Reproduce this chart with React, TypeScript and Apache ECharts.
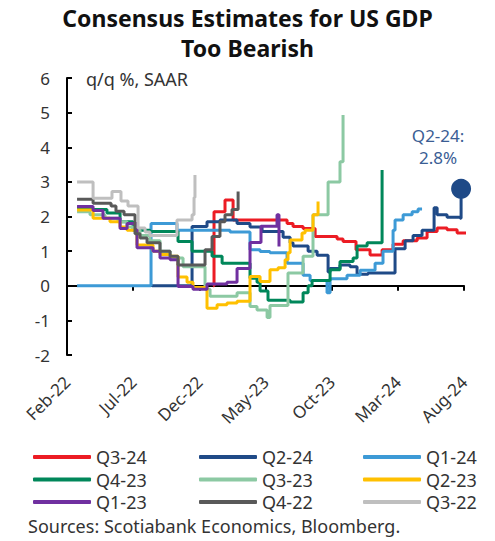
import { useEffect, useRef } from "react";
import * as echarts from "echarts";

// x values: months since Feb-22 (0 = Feb-22, 30 = Aug-24)
const TICK_LABELS = ["Feb-22", "Jul-22", "Dec-22", "May-23", "Oct-23", "Mar-24", "Aug-24"];
const SERIES_NAMES = ["Q3-24", "Q2-24", "Q1-24", "Q4-23", "Q3-23", "Q2-23", "Q1-23", "Q4-22", "Q3-22"];
const COLORS = ["#ec1c24", "#1f4a87", "#3d9ad6", "#00875a", "#8cc9a3", "#ffc000", "#7030a0", "#595959", "#bfbfbf"];

const q324 = [[11.04, 0], [11.11, 2.14], [11.94, 2.48], [12.55, 1.9], [15.12, 1.9], [16.63, 1.8], [17.08, 1.71], [17.84, 1.65], [18.75, 1.42], [20.41, 1.35], [20.86, 1.28], [21.84, 1.04], [22.9, 0.89], [23.81, 1.04], [24.64, 1.2], [25.4, 1.3], [26.46, 1.38], [27.21, 1.57], [27.97, 1.67], [28.72, 1.62], [29.48, 1.52], [30.16, 1.52]];
const q224 = [[6.42, 0], [9.45, 1.71], [10.58, 1.85], [11.56, 1.9], [12.85, 1.8], [13.83, 1.7], [14.74, 1.57], [16.33, 1.4], [16.86, 1.24], [17.08, 1.15], [18.22, 1.0], [18.9, 0.88], [19.73, 0.4], [19.88, 0.5], [20.63, 0.6], [21.39, 0.55], [21.92, 0.33], [22.75, 0.37], [24.79, 1.07], [25.55, 1.3], [26.15, 1.45], [26.83, 1.6], [27.74, 2.25], [27.97, 2.05], [28.72, 1.98], [29.71, 1.95], [29.78, 2.8]];
const q124 = [[0.76, 0], [6.35, 1.8], [8.31, 1.6], [12.32, 1.55], [13.83, 1.04], [14.59, 0.99], [15.34, 0.95], [16.63, 0.65], [17.84, 0.3], [18.37, 0.15], [19.65, -0.2], [19.88, 0.2], [21.16, 0.3], [22.15, 0.45], [23.28, 0.65], [23.88, 1.0], [24.64, 1.6], [24.79, 1.9], [25.4, 2.05], [26.08, 2.14], [26.53, 2.22], [26.83, 2.22]];
const q423 = [[0.76, 2.25], [1.74, 2.2], [3.02, 2.1], [4.01, 1.85], [4.99, 1.6], [6.27, 1.57], [8.39, 1.28], [9.45, 1.0], [10.96, 0.85], [11.72, 0.65], [13.83, 0.22], [14.36, 0.1], [14.59, -0.15], [15.19, -0.42], [16.86, -0.47], [17.84, -0.2], [18.22, 0.0], [18.52, 0.15], [19.88, 0.46], [20.63, 0.7], [21.62, 0.8], [21.92, 1.15], [22.68, 1.24], [23.81, 3.34]];
const q323 = [[0.76, 2.14], [1.74, 2.05], [2.87, 1.95], [3.85, 1.85], [4.54, 1.7], [4.99, 1.6], [5.52, 1.45], [6.27, 1.3], [7.03, 1.0], [7.79, 0.8], [8.77, 0.55], [10.43, -0.1], [10.81, -0.3], [12.85, -0.2], [13.83, -0.6], [14.36, -0.7], [15.12, -0.92], [15.34, -0.57], [16.7, 0.37], [17.84, 0.85], [18.59, 2.05], [19.73, 3.0], [20.63, 3.58], [20.86, 4.93]];
const q223 = [[0.76, 2.19], [1.97, 1.95], [3.25, 1.85], [4.01, 1.7], [4.54, 1.6], [5.29, 1.18], [6.5, 1.0], [7.03, 0.9], [7.79, 0.85], [8.39, 0.25], [9.07, 0.1], [9.52, -0.05], [10.58, -0.65], [11.34, -0.55], [12.09, -0.5], [12.85, -0.45], [13.83, 0.27], [14.59, 0.12], [15.34, 0.46], [15.95, 0.52], [16.48, 0.75], [16.7, 0.95], [16.86, 1.32], [17.76, 1.52], [17.99, 1.6], [18.59, 2.05], [18.97, 2.43]];
const q123 = [[0.76, 2.29], [1.97, 2.17], [2.72, 1.95], [4.01, 1.65], [4.54, 1.8], [5.29, 1.1], [6.5, 1.0], [7.03, 0.8], [7.79, 0.75], [8.39, -0.02], [9.52, -0.1], [10.58, 0.05], [12.09, 0.1], [12.85, 0.5], [13.83, 1.25], [14.66, 1.72], [15.87, 2.05], [16.02, 1.13]];
const q422 = [[0.76, 2.5], [1.97, 2.38], [3.33, 2.3], [3.7, 2.15], [4.31, 2.05], [5.14, 1.5], [5.52, 1.38], [6.05, 1.24], [7.03, 1.0], [7.79, 0.85], [8.39, 0.6], [10.43, 1.04], [10.96, 1.42], [11.56, 1.85], [11.94, 2.05], [12.47, 2.2], [12.93, 2.72]];
const q322 = [[0.76, 3.0], [1.97, 2.53], [3.4, 2.72], [4.08, 2.45], [4.61, 2.3], [5.37, 1.67], [5.9, 1.55], [6.27, 1.45], [8.31, 1.9], [9.45, 2.05], [9.6, 2.55], [9.67, 3.2]];

const SERIES_DATA = [q324, q224, q124, q423, q323, q223, q123, q422, q322];
const LEGEND_COLUMNS = [
  ["Q3-24", "Q4-23", "Q1-23"],
  ["Q2-24", "Q3-23", "Q4-22"],
  ["Q1-24", "Q2-23", "Q3-22"],
];

const FONT = "Noto Sans";

export default function App() {
  const ref = useRef<HTMLDivElement>(null);
  useEffect(() => {
    if (!ref.current) return;
    const chart = echarts.init(ref.current, undefined, { renderer: "svg" });
    const last = q224[q224.length - 1];
    const lineSeries = SERIES_NAMES.map((name, i) => ({
      name,
      type: "line",
      step: "end",
      data: SERIES_DATA[i],
      showSymbol: false,
      clip: false,
      lineStyle: { color: COLORS[i], width: 3 },
      itemStyle: { color: COLORS[i] },
      z: 3,
    }));
    chart.setOption({
      animation: false,
      textStyle: { fontFamily: FONT },
      title: {
        text: "Consensus Estimates for US GDP\nToo Bearish",
        left: "center",
        top: 3,
        padding: 0,
        textStyle: { fontFamily: FONT, fontSize: 23, fontWeight: "bold", color: "#111", lineHeight: 30 },
      },
      grid: { left: 67, right: 31, top: 78, bottom: 186 },
      xAxis: [
        {
          type: "value",
          min: 0,
          max: 30,
          interval: 5,
          axisLine: { show: true, onZero: true, lineStyle: { color: "#000", width: 2 } },
          axisTick: { show: true, inside: false, length: 5, lineStyle: { color: "#000", width: 2 } },
          axisLabel: { show: false },
          splitLine: { show: false },
        },
        {
          type: "value",
          min: 0,
          max: 30,
          interval: 5,
          position: "bottom",
          axisLine: { show: false, onZero: false },
          axisTick: { show: false },
          splitLine: { show: false },
          axisLabel: {
            rotate: 45,
            margin: 24,
            fontSize: 17,
            color: "#333",
            fontFamily: FONT,
            formatter: (v: number) => TICK_LABELS[Math.round(v / 5)] ?? "",
          },
        },
      ],
      yAxis: {
        type: "value",
        min: -2,
        max: 6,
        interval: 1,
        axisLine: { show: true, lineStyle: { color: "#000", width: 2 } },
        axisTick: { show: true, inside: true, length: 5, lineStyle: { color: "#000", width: 2 } },
        axisLabel: { fontSize: 17, color: "#333", margin: 17, fontFamily: FONT },
        splitLine: { show: false },
      },
      legend: LEGEND_COLUMNS.map((col, c) => ({
        data: col,
        orient: "vertical",
        left: [33, 199, 363][c],
        top: 448,
        padding: 0,
        itemGap: 4.5,
        itemWidth: 58,
        itemHeight: 4,
        icon: "roundRect",
        selectedMode: false,
        textStyle: { fontSize: 18, color: "#333", fontFamily: FONT, lineHeight: 18 },
      })),
      graphic: [
        {
          type: "text",
          left: 86,
          top: 70,
          style: { text: "q/q %, SAAR", fontSize: 18, fill: "#333", fontFamily: FONT },
        },
        {
          type: "text",
          left: 28,
          top: 516,
          style: { text: "Sources: Scotiabank Economics, Bloomberg.", fontSize: 18, lineHeight: 20, fill: "#333", fontFamily: FONT },
        },
      ],
      series: [
        ...lineSeries,
        {
          name: "Q2-24 latest",
          type: "scatter",
          data: [last],
          symbolSize: 20,
          itemStyle: { color: COLORS[1], opacity: 1 },
          z: 5,
          label: {
            show: true,
            position: "top",
            offset: [-23, -5],
            formatter: () => `Q2-24:\n${last[1].toFixed(1)}%`,
            fontSize: 17,
            lineHeight: 22,
            color: "#3a5d94",
            fontFamily: FONT,
            align: "center",
          },
        },
      ],
    });
    return () => chart.dispose();
  }, []);
  return <div ref={ref} style={{ position: "absolute", left: 0, top: 0, width: 495, height: 541 }} />;
}
